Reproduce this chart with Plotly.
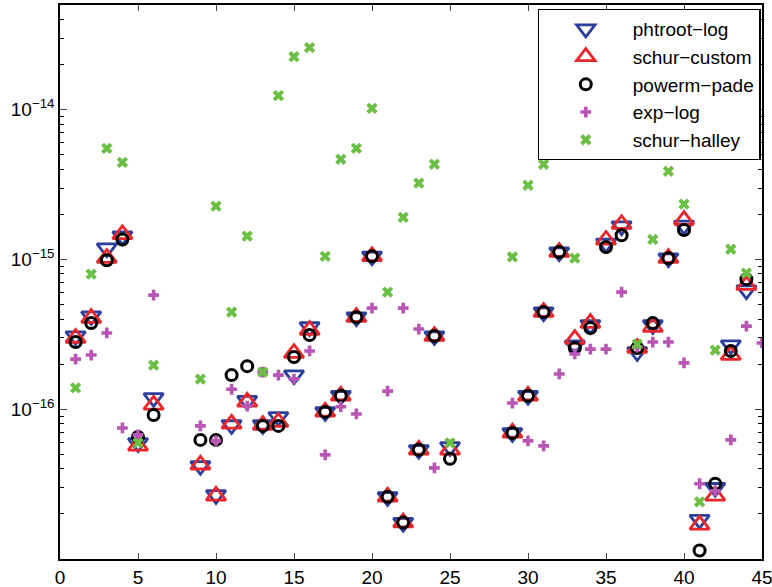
import plotly.graph_objects as go

# ---- data ----
idx_tri = [1, 2, 3, 4, 5, 6, 9, 10, 11, 12, 13, 14, 15, 16, 17, 18, 19, 20, 21, 22, 23, 24, 25,
           29, 30, 31, 32, 33, 34, 35, 36, 37, 38, 39, 40, 41, 42, 43, 44]

phtroot_log = [3.08e-16, 4.19e-16, 1.19e-15, 1.43e-15, 5.96e-17, 1.19e-16, 4.19e-17, 2.68e-17,
               7.85e-17, 1.14e-16, 7.85e-17, 8.89e-17, 1.69e-16, 3.54e-16, 9.6e-17, 1.23e-16,
               4.12e-16, 1.05e-15, 2.6e-17, 1.75e-17, 5.36e-17, 3.08e-16, 5.61e-17,
               6.95e-17, 1.23e-16, 4.45e-16, 1.12e-15, 2.68e-16, 3.65e-16, 1.28e-15, 1.67e-15,
               2.41e-16, 3.65e-16, 1.02e-15, 1.69e-15, 1.83e-17, 2.99e-17, 2.68e-16, 6.24e-16]

schur_custom = [2.99e-16, 4.06e-16, 1.02e-15, 1.47e-15, 5.69e-17, 1.07e-16, 4.26e-17, 2.64e-17,
                7.98e-17, 1.12e-16, 7.85e-17, 8.22e-17, 2.37e-16, 3.38e-16, 9.6e-17, 1.23e-16,
                4.12e-16, 1.05e-15, 2.6e-17, 1.75e-17, 5.36e-17, 3.08e-16, 5.36e-17,
                6.95e-17, 1.23e-16, 4.45e-16, 1.12e-15, 2.94e-16, 3.76e-16, 1.35e-15, 1.72e-15,
                2.56e-16, 3.54e-16, 1.02e-15, 1.83e-15, 1.69e-17, 2.64e-17, 2.3e-16, 6.74e-16]

powerm_pade = [2.81e-16, 3.76e-16, 9.89e-16, 1.36e-15, 6.53e-17, 9.16e-17, 6.24e-17, 6.24e-17,
               1.69e-16, 1.94e-16, 7.74e-17, 7.74e-17, 2.23e-16, 3.13e-16, 9.6e-17, 1.23e-16,
               4.12e-16, 1.05e-15, 2.6e-17, 1.75e-17, 5.36e-17, 3.08e-16, 4.67e-17,
               6.95e-17, 1.23e-16, 4.45e-16, 1.12e-15, 2.56e-16, 3.48e-16, 1.21e-15, 1.45e-15,
               2.56e-16, 3.76e-16, 1.02e-15, 1.57e-15, 1.14e-17, 3.18e-17, 2.45e-16, 7.39e-16]

idx_exp = [1, 2, 3, 4, 5, 6, 9, 10, 11, 12, 13, 14, 15, 16, 17, 18, 19, 20, 21, 22, 23, 24,
           29, 30, 31, 32, 33, 34, 35, 36, 37, 38, 39, 40, 41, 42, 43, 44, 45]
exp_log = [2.16e-16, 2.3e-16, 3.23e-16, 7.5e-17, 6.74e-17, 5.78e-16, 7.74e-17, 6.15e-17,
           1.36e-16, 1.05e-16, 1.77e-16, 1.69e-16, 1.59e-16, 2.45e-16, 4.96e-17, 1.04e-16,
           9.3e-17, 4.73e-16, 1.32e-16, 4.73e-16, 3.43e-16, 4.06e-17,
           1.1e-16, 6.15e-17, 5.69e-17, 1.72e-16, 2.34e-16, 2.52e-16, 2.52e-16, 6.05e-16,
           2.6e-16, 2.81e-16, 2.81e-16, 2.04e-16, 3.18e-17, 2.85e-17, 6.24e-17, 3.59e-16, 2.77e-16]

idx_halley = [1, 2, 3, 4, 5, 6, 9, 10, 11, 12, 13, 14, 15, 16, 17, 18, 19, 20, 21, 22, 23, 24, 25,
              29, 30, 31, 33, 37, 38, 39, 40, 41, 42, 43, 44]
schur_halley = [1.39e-16, 7.98e-16, 5.52e-15, 4.45e-15, 5.96e-17, 1.97e-16, 1.59e-16, 2.27e-15,
                4.45e-16, 1.43e-15, 1.77e-16, 1.24e-14, 2.26e-14, 2.6e-14, 1.05e-15, 4.67e-15,
                5.52e-15, 1.02e-14, 6.05e-16, 1.91e-15, 3.23e-15, 4.32e-15, 5.96e-17,
                1.04e-15, 3.13e-15, 4.32e-15, 1.02e-15, 2.72e-16, 1.36e-15, 3.88e-15, 2.34e-15,
                2.41e-17, 2.48e-16, 1.17e-15, 8.11e-16]

x_ticks = [0, 5, 10, 15, 20, 25, 30, 35, 40, 45]
y_ticks = [1e-16, 1e-15, 1e-14]
y_ticktext = ["10<sup>\u221216</sup>", "10<sup>\u221215</sup>", "10<sup>\u221214</sup>"]

BLUE = "#2b3f9c"
RED = "#e8262b"
GREEN = "#6cbf45"
MAGENTA = "#b955b5"

fig = go.Figure()
fig.add_trace(go.Scatter(x=idx_tri, y=phtroot_log, mode="markers", name="phtroot\u2212log",
                         marker=dict(symbol="triangle-down-open", size=17, color=BLUE,
                                     line=dict(width=2.8, color=BLUE))))
fig.add_trace(go.Scatter(x=idx_tri, y=schur_custom, mode="markers", name="schur\u2212custom",
                         marker=dict(symbol="triangle-up-open", size=17, color=RED,
                                     line=dict(width=2.8, color=RED))))
fig.add_trace(go.Scatter(x=idx_tri, y=powerm_pade, mode="markers", name="powerm\u2212pade",
                         marker=dict(symbol="circle-open", size=11, color="black",
                                     line=dict(width=3, color="black"))))
fig.add_trace(go.Scatter(x=idx_exp, y=exp_log, mode="markers", name="exp\u2212log",
                         marker=dict(symbol="cross", size=9, color=MAGENTA, line=dict(width=0))))
fig.add_trace(go.Scatter(x=idx_halley, y=schur_halley, mode="markers", name="schur\u2212halley",
                         marker=dict(symbol="x", size=10, color=GREEN, line=dict(width=0))))

minor_vals = [m * 10.0 ** e for e in range(-17, -13) for m in range(2, 10)]

fig.update_layout(
    width=772, height=587,
    margin=dict(l=60, r=10, t=5, b=28, autoexpand=False),
    paper_bgcolor="white", plot_bgcolor="white",
    font=dict(family="Liberation Sans", size=19, color="black"),
    showlegend=True,
    legend=dict(x=0.998, y=0.993, xanchor="right", yanchor="top",
                bordercolor="black", borderwidth=1.2, bgcolor="white",
                font=dict(size=19), itemwidth=84, tracegroupgap=0),
)
fig.update_xaxes(range=[0, 45], tickvals=x_ticks, ticks="inside", ticklen=6,
                 showline=True, linecolor="black", linewidth=1.5, mirror="allticks",
                 showgrid=False, zeroline=False, tickfont=dict(size=19), automargin=False,
                 ticklabeloverflow="allow")
fig.update_yaxes(type="log", range=[-17, -13.301], tickvals=y_ticks, ticktext=y_ticktext,
                 ticks="inside", ticklen=7, showline=True, linecolor="black", linewidth=1.5,
                 mirror="allticks", showgrid=False, zeroline=False, tickfont=dict(size=19),
                 automargin=False, ticklabeloverflow="allow",
                 minor=dict(tickvals=minor_vals, ticks="inside", ticklen=4, showgrid=False,
                            tickcolor="black"))

fig.write_html("out.html", config={"displayModeBar": False},
               post_script="document.body.style.margin='0px';")
